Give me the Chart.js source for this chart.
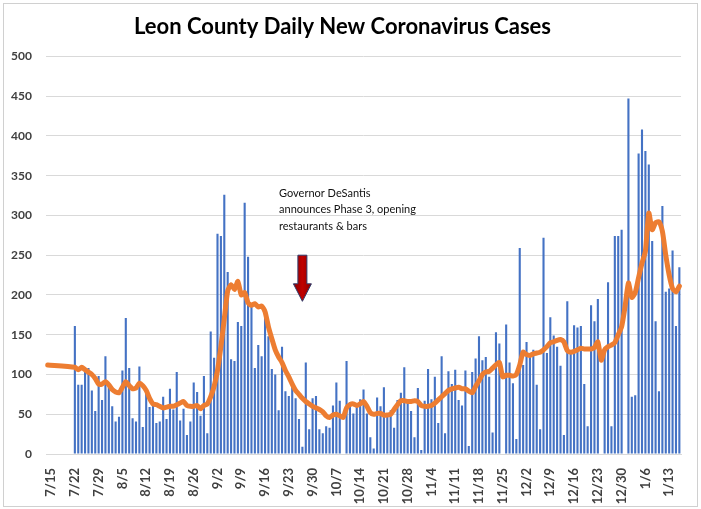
<!DOCTYPE html>
<html>
<head>
<meta charset="utf-8">
<script src="https://cdn.jsdelivr.net/npm/chart.js@4.4.1/dist/chart.umd.min.js"></script>
<style>
  html, body { margin: 0; padding: 0; background: #fff; }
  canvas { display: block; }
</style>
</head>
<body>
<canvas id="chart" width="701" height="509"></canvas>
<script>
// one category per day, 7/14 .. 1/16
const categories = [
  '7/14','7/15','7/16','7/17','7/18','7/19','7/20','7/21','7/22','7/23','7/24','7/25','7/26','7/27','7/28','7/29','7/30','7/31',
  '8/1','8/2','8/3','8/4','8/5','8/6','8/7','8/8','8/9','8/10','8/11','8/12','8/13','8/14','8/15','8/16','8/17','8/18','8/19','8/20','8/21','8/22','8/23','8/24','8/25','8/26','8/27','8/28','8/29','8/30','8/31',
  '9/1','9/2','9/3','9/4','9/5','9/6','9/7','9/8','9/9','9/10','9/11','9/12','9/13','9/14','9/15','9/16','9/17','9/18','9/19','9/20','9/21','9/22','9/23','9/24','9/25','9/26','9/27','9/28','9/29','9/30',
  '10/1','10/2','10/3','10/4','10/5','10/6','10/7','10/8','10/9','10/10','10/11','10/12','10/13','10/14','10/15','10/16','10/17','10/18','10/19','10/20','10/21','10/22','10/23','10/24','10/25','10/26','10/27','10/28','10/29','10/30','10/31',
  '11/1','11/2','11/3','11/4','11/5','11/6','11/7','11/8','11/9','11/10','11/11','11/12','11/13','11/14','11/15','11/16','11/17','11/18','11/19','11/20','11/21','11/22','11/23','11/24','11/25','11/26','11/27','11/28','11/29','11/30',
  '12/1','12/2','12/3','12/4','12/5','12/6','12/7','12/8','12/9','12/10','12/11','12/12','12/13','12/14','12/15','12/16','12/17','12/18','12/19','12/20','12/21','12/22','12/23','12/24','12/25','12/26','12/27','12/28','12/29','12/30','12/31',
  '1/1','1/2','1/3','1/4','1/5','1/6','1/7','1/8','1/9','1/10','1/11','1/12','1/13','1/14','1/15','1/16'
];

const tickLabels = ['7/15','7/22','7/29','8/5','8/12','8/19','8/26','9/2','9/9','9/16','9/23','9/30',
  '10/7','10/14','10/21','10/28','11/4','11/11','11/18','11/25','12/2','12/9','12/16','12/23','12/30','1/6','1/13'];

const dailyCases = [
  null, null, null, null, null, null, null, null,
  161, 87, 87, 103, 108, 80, 54,
  98, 68, 123, 85, 60, 41, 47,
  105, 171, 108, 45, 41, 110, 34,
  78, 59, 62, 39, 41, 72, 44,
  82, 56, 103, 42, 57, 24, 41,
  90, 78, 48, 98, 26, 154, 121,
  277, 274, 326, 229, 119, 117, 166,
  161, 316, 248, 190, 108, 137, 123,
  171, 148, 107, 100, 55, 135, 79,
  73, 87, 70, 44, 9, 115, 31,
  70, 73, 31, 26, 35, 33, 61,
  90, 67, 0, 117, 65, 51, 60,
  69, 81, 51, 21, 7, 71, 60,
  84, 50, 55, 33, 68, 77, 109,
  65, 54, 21, 83, 5, 67, 107,
  69, 97, 39, 123, 26, 104, 88,
  106, 68, 61, 105, 10, 103, 120,
  148, 118, 122, 97, 27, 153, 139,
  0, 163, 115, 89, 19, 259, 112,
  141, 125, 131, 87, 31, 272, 127,
  172, 149, 135, 111, 24, 192, 126,
  162, 159, 161, 88, 35, 187, 167,
  195, 0, 129, 216, 35, 274, 274,
  282, 0, 447, 72, 74, 378, 408,
  381, 364, 268, 167, 79, 312, 204,
  208, 256, 161, 235
];

const sevenDayAvg = [
  112, null, null, null, null, null, null, null,
  109, 106, 109, 106, 103, 100, 95,
  88, 88, 91, 87, 81, 78, 77,
  84, 91, 86, 82, 83, 89, 86,
  80, 70, 63, 62, 60, 58, 59,
  60, 60, 62, 64, 66, 61, 60,
  60, 61, 57, 61, 63, 72, 85,
  105, 135, 170, 205, 213, 207, 217,
  200, 203, 190, 187, 189, 185, 186,
  179, 160, 145, 131, 122, 115, 105,
  97, 88, 80, 75, 70, 66, 63,
  60, 58, 56, 53, 48, 46, 49,
  50, 48, 46, 58, 62, 63, 61,
  63, 66, 60, 52, 50, 51, 51,
  49, 49, 50, 56, 62, 67, 67,
  66, 66, 67, 66, 61, 60, 60,
  61, 64, 68, 72, 76, 80, 82,
  83, 84, 82, 82, 79, 77, 85,
  92, 100, 103, 104, 108, 112, 115,
  97, 99, 99, 98, 100, 112, 128,
  125, 124, 126, 127, 128, 131, 135,
  140, 141, 143, 144, 141, 130, 128,
  129, 131, 133, 132, 132, 132, 134,
  141, 118, 131, 135, 137, 140, 150,
  160, 185, 215, 197, 203, 222, 240,
  255, 303, 282, 291, 292, 280, 250,
  225, 208, 204, 211
];

// annotation: Phase 3 note and arrow
const noteLines = ['Governor DeSantis', 'announces Phase 3, opening', 'restaurants & bars'];
const noteDate = '9/21';
const noteValue = 328;
const arrowDate = '9/27';
const arrowTop = 250;
const arrowNeck = 214;
const arrowTip = 192;

const phaseNote = {
  id: 'phaseNote',
  beforeDraw(chart) {
    const ctx = chart.ctx;
    ctx.save();
    ctx.fillStyle = '#ffffff';
    ctx.fillRect(0, 0, chart.width, chart.height);
    ctx.restore();
  },
  afterDatasetsDraw(chart) {
    const { ctx, scales: { x, y } } = chart;
    const ax = x.getPixelForValue(categories.indexOf(arrowDate));
    const top = y.getPixelForValue(arrowTop);
    const neck = y.getPixelForValue(arrowNeck);
    const tip = y.getPixelForValue(arrowTip);

    ctx.save();
    ctx.beginPath();
    ctx.moveTo(ax - 4.5, top);
    ctx.lineTo(ax + 4.5, top);
    ctx.lineTo(ax + 4.5, neck);
    ctx.lineTo(ax + 9, neck);
    ctx.lineTo(ax, tip);
    ctx.lineTo(ax - 9, neck);
    ctx.lineTo(ax - 4.5, neck);
    ctx.closePath();
    const grad = ctx.createLinearGradient(ax - 9, 0, ax + 9, 0);
    grad.addColorStop(0, '#8B0000');
    grad.addColorStop(0.5, '#C00000');
    grad.addColorStop(1, '#8B0000');
    ctx.fillStyle = grad;
    ctx.fill();
    ctx.lineWidth = 1;
    ctx.strokeStyle = '#2F3B6B';
    ctx.stroke();

    const nx = x.getPixelForValue(categories.indexOf(noteDate)) - 3;
    const ny = y.getPixelForValue(noteValue);
    ctx.fillStyle = '#111111';
    ctx.font = '11px Lato';
    ctx.textAlign = 'left';
    ctx.textBaseline = 'middle';
    noteLines.forEach((line, i) => ctx.fillText(line, nx, ny + i * 16.5));
    ctx.restore();
  },
  afterDraw(chart) {
    const ctx = chart.ctx;
    ctx.save();
    ctx.strokeStyle = '#D0D0D0';
    ctx.lineWidth = 1;
    ctx.strokeRect(3.5, 3.5, chart.width - 7, chart.height - 6);
    ctx.restore();
  }
};

new Chart(document.getElementById('chart'), {
  type: 'bar',
  data: {
    labels: categories,
    datasets: [
      {
        type: 'line',
        label: '7-day average',
        data: sevenDayAvg,
        borderColor: '#ED7D31',
        borderWidth: 5,
        pointRadius: 0,
        tension: 0.2,
        spanGaps: true,
        borderCapStyle: 'round',
        borderJoinStyle: 'round',
        order: 0
      },
      {
        label: 'Daily new cases',
        data: dailyCases,
        backgroundColor: '#4472C4',
        barPercentage: 0.62,
        categoryPercentage: 1,
        order: 1
      }
    ]
  },
  options: {
    responsive: false,
    animation: false,
    devicePixelRatio: 1,
    layout: { padding: { left: 0, right: 16, top: 0, bottom: 5 } },
    plugins: {
      legend: { display: false },
      tooltip: { enabled: false },
      title: {
        display: true,
        text: 'Leon County Daily New Coronavirus Cases',
        color: '#000000',
        font: { family: 'Lato', size: 22, weight: 'bold' },
        padding: { top: 14, bottom: 16 }
      }
    },
    scales: {
      x: {
        grid: { display: false },
        border: { display: true, color: '#D9D9D9' },
        ticks: {
          autoSkip: false,
          minRotation: 90,
          maxRotation: 90,
          padding: 6,
          color: '#404040',
          font: { family: 'Lato', size: 13, weight: 'bold' },
          callback: function (value, index) {
            const c = categories[index];
            return tickLabels.includes(c) ? c : '';
          }
        },
        afterFit: function (scale) { scale.height = 50; }
      },
      y: {
        min: 0,
        max: 500,
        grid: { color: '#D9D9D9', drawTicks: false },
        border: { display: false },
        ticks: {
          stepSize: 50,
          padding: 14,
          color: '#404040',
          font: { family: 'Lato', size: 12, weight: 'bold' }
        },
        afterFit: function (scale) { scale.width = 46; }
      }
    }
  },
  plugins: [phaseNote]
});
</script>
</body>
</html>
